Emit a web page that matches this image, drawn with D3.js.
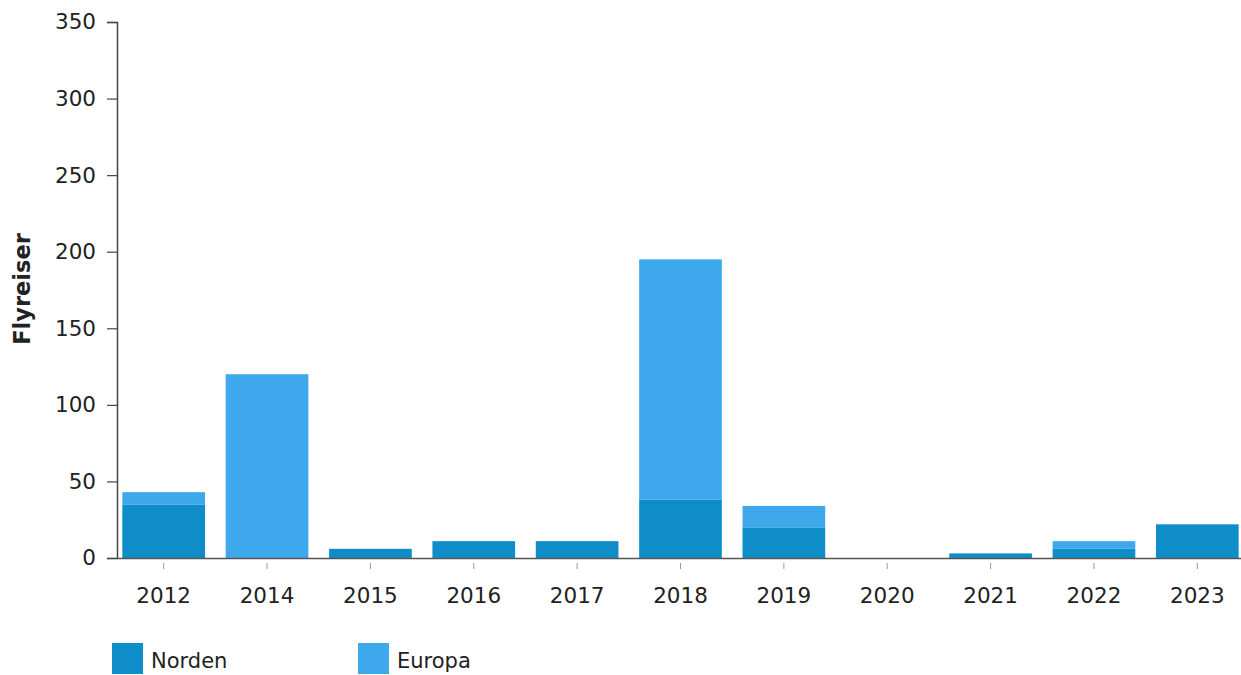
<!DOCTYPE html>
<html>
<head>
<meta charset="utf-8">
<script src="https://cdn.jsdelivr.net/npm/d3@7"></script>
<style>
body{margin:0;background:#fff;}
text{font-family:"DejaVu Sans",Verdana,sans-serif;fill:#222;}
</style>
</head>
<body>
<svg id="chart"></svg>
<script>
// data
var years = ["2012","2014","2015","2016","2017","2018","2019","2020","2021","2022","2023"]
var norden = [35, 0, 6, 11, 11, 38, 20, 0, 3, 6, 22]
var europa = [8, 120, 0, 0, 0, 157, 14, 0, 0, 5, 0]
var yTicks = [0, 50, 100, 150, 200, 250, 300, 350]
var seriesNames = ["Norden","Europa"]
var colors = {Norden:"#0e8dc9", Europa:"#3ea8ec"}

var screen = {width:1241, height:675}
var svg = d3.select("#chart").attr("width",screen.width).attr("height",screen.height)

var x = d3.scaleBand().domain(years).range([112,1249]).paddingInner(0.2).paddingOuter(0.1)
var y = d3.scaleLinear().domain([0,350]).range([558,22])

var rows = years.map(function(d,i){ return {year:d, Norden:norden[i], Europa:europa[i]} })
var stack = d3.stack().keys(seriesNames)(rows)

// y axis
var yAxis = svg.append("g").attr("transform","translate(117,0)")
  .call(d3.axisLeft(y).tickValues(yTicks).tickSize(10).tickPadding(11))
yAxis.select(".domain").attr("stroke","#444").attr("stroke-width",1.5)
yAxis.selectAll(".tick line").attr("stroke","#444").attr("stroke-width",1.2)
yAxis.selectAll("text").style("font-size","21.5px").attr("fill","#222")

// bars
svg.append("g").selectAll("g").data(stack).enter().append("g")
  .attr("fill",function(d){ return colors[d.key] })
  .selectAll("rect").data(function(d){ return d }).enter().append("rect")
  .attr("x",function(d){ return x(d.data.year) })
  .attr("width",x.bandwidth())
  .attr("y",function(d){ return y(d[1]) })
  .attr("height",function(d){ return y(d[0]) - y(d[1]) })

// x axis
var xAxis = svg.append("g").attr("transform","translate(0,"+y(0)+")")
  .call(d3.axisBottom(x).tickSize(6).tickPadding(24))
xAxis.select(".domain").attr("d","M117,0.5H1241").attr("stroke","#555").attr("stroke-width",1.5)
xAxis.selectAll(".tick line").attr("stroke","#999").attr("y1",5).attr("y2",11)
xAxis.selectAll("text").style("font-size","21.5px").attr("fill","#222")

// y title
svg.append("text")
  .attr("transform","translate(30,289) rotate(-90)")
  .attr("text-anchor","middle")
  .style("font-size","22.5px").style("font-weight","bold")
  .text("Flyreiser")

// legend
var legend = svg.append("g").selectAll("g").data(seriesNames).enter().append("g")
  .attr("transform",function(d,i){ return "translate(" + (112 + i*246) + ",643)" })
legend.append("rect").attr("width",31).attr("height",31).attr("fill",function(d){ return colors[d] })
legend.append("text").attr("x",39).attr("y",25).style("font-size","21px").style("font-weight","500").text(function(d){ return d })
</script>
</body>
</html>
